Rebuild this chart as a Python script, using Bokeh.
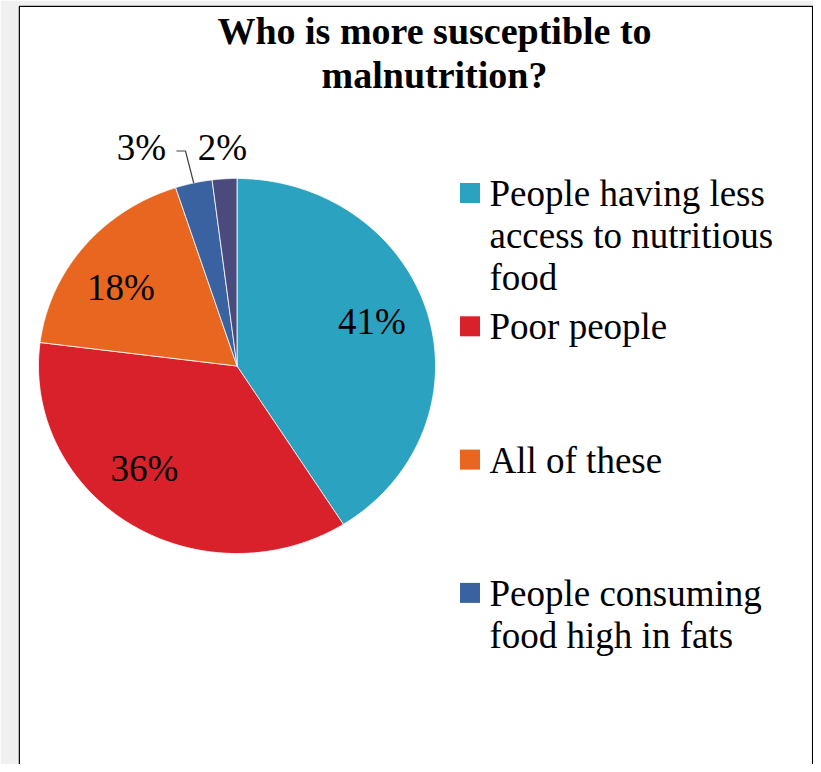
import numpy as np
from bokeh.plotting import figure
from bokeh.models import Range1d
from bokeh.core.properties import value
from bokeh.embed import file_html
from bokeh.resources import INLINE

# ---- data ----
categories = ["People having less access to nutritious food", "Poor people",
              "All of these", "People consuming food high in fats", "Others"]
legend_lines = [["People having less", "access to nutritious", "food"],
                ["Poor people"],
                ["All of these"],
                ["People consuming", "food high in fats"]]
percent = [41, 36, 18, 3, 2]
colors = ["#2BA2BF", "#D9212B", "#E8661F", "#3A62A0", "#4A4A7C"]
title_lines = ["Who is more susceptible to", "malnutrition?"]

# ---- layout (screen-like coordinates of the reference) ----
FONT = value("Liberation Serif")
W, H = 813, 764
def Y(sy):  # reference screen y -> data y
    return 772 - sy

p = figure(width=W, height=H, output_backend="svg", toolbar_location=None,
           x_range=Range1d(18, W), y_range=Range1d(Y(H), Y(5)),
           min_border_left=18, min_border_right=0, min_border_top=5, min_border_bottom=0)
p.axis.visible = False
p.grid.visible = False
p.outline_line_color = None
p.border_fill_color = "#f0f0f0"
p.background_fill_color = "white"

# box border
p.line([18.7, 18.7, 812.2, 812.2], [Y(800), Y(5.7), Y(5.7), Y(800)],
       line_color="black", line_width=1.5)

# ---- pie ----
cx, cy = 236.5, Y(365.5)
rx, ry = 198.5, 187.5
vals = np.array(percent, dtype=float)
frac = vals / vals.sum()
cum = np.concatenate([[0], np.cumsum(frac)])
xs, ys = [], []
for i in range(len(vals)):
    t = np.linspace(cum[i], cum[i + 1], 200) * 2 * np.pi
    xs.append(np.concatenate([[cx], cx + rx * np.sin(t), [cx]]))
    ys.append(np.concatenate([[cy], cy + ry * np.cos(t), [cy]]))
p.patches(xs, ys, fill_color=colors, line_color="white", line_width=0.8)

# ---- data labels ----
mid = (cum[:-1] + cum[1:]) / 2 * 2 * np.pi
label_shift_deg = [-3, 8, -4, 0, 0]
lab_x, lab_y = [], []
for i, m in enumerate(mid):
    a = m + np.radians(label_shift_deg[i])
    k = 0.72 if frac[i] > 0.05 else 1.165
    lab_x.append(cx + k * rx * np.sin(a))
    lab_y.append(cy + k * ry * np.cos(a))
# the 3% label is pushed left of the 2% label
lab_x[3] = lab_x[4] - 81
lab_y[3] = lab_y[4]
labels = ["%d%%" % v for v in percent]
p.text(lab_x, lab_y, text=labels, text_font=FONT, text_font_size="37px",
       text_align="center", text_baseline="middle", text_color="black")
# leader line for 3%
ex = cx + rx * np.sin(mid[3]); ey = cy + ry * np.cos(mid[3])
p.line([lab_x[3] + 35, lab_x[3] + 44, ex], [lab_y[3] - 3, lab_y[3] - 3, ey],
       line_color="#404040", line_width=1.2)

# ---- title ----
p.text([434, 434], [Y(30), Y(74)], text=title_lines, text_font=FONT,
       text_font_size="38px", text_font_style="bold", text_align="center",
       text_baseline="alphabetic", text_color="black")

# ---- legend ----
leg_top, leg_step, line_h = 192.5, 133.3, 42
for i, lines in enumerate(legend_lines):
    sc = leg_top + i * leg_step
    p.rect([469.5], [Y(sc)], width=20, height=20, fill_color=colors[i], line_color=None)
    ty = [Y(sc + 0.5 + j * line_h) for j in range(len(lines))]
    p.text([489] * len(lines), ty, text=lines, text_font=FONT, text_font_size="37px",
           text_align="left", text_baseline="alphabetic", text_color="black")

open("out.html", "w").write(file_html(p, INLINE))
